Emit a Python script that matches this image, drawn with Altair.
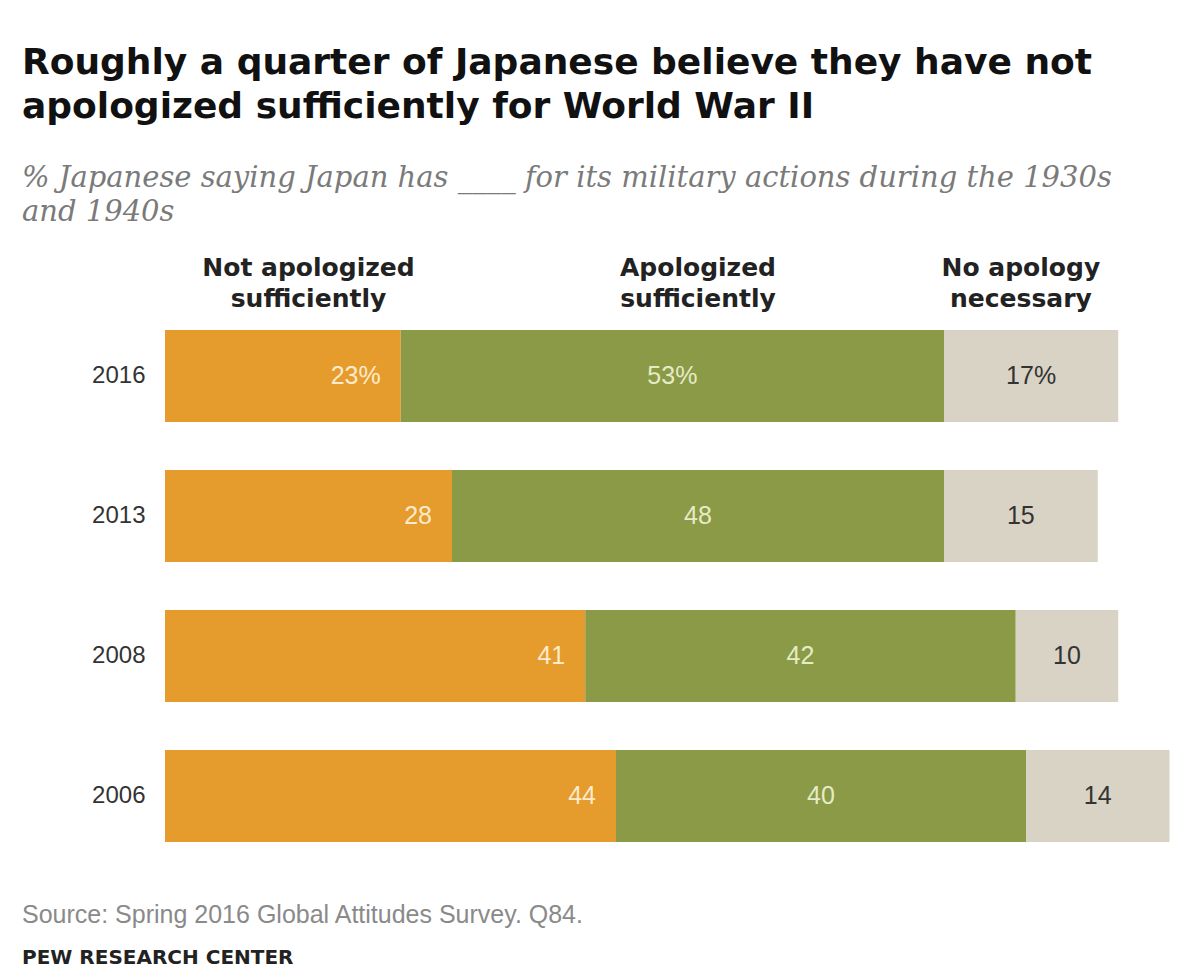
import altair as alt
import pandas as pd

# ---- data ----
years = ["2016", "2013", "2008", "2006"]
categories = ["Not apologized sufficiently", "Apologized sufficiently", "No apology necessary"]
header_lines = [["Not apologized", "sufficiently"], ["Apologized", "sufficiently"], ["No apology", "necessary"]]
not_sufficient = [23, 28, 41, 44]
sufficient = [53, 48, 42, 40]
not_necessary = [17, 15, 10, 14]

title_lines = ["Roughly a quarter of Japanese believe they have not",
               "apologized sufficiently for World War II"]
subtitle_lines = ["% Japanese saying Japan has ____ for its military actions during the 1930s",
                  "and 1940s"]
source_text = "Source: Spring 2016 Global Attitudes Survey. Q84."
org_text = "PEW RESEARCH CENTER"

colors = ["#E69B2D", "#8A9A46", "#D8D3C4"]
label_colors = ["#FCEBCB", "#E6EBC6", "#333333"]

rows = []
series = [not_sufficient, sufficient, not_necessary]
for i, yr in enumerate(years):
    for j, cat in enumerate(categories):
        v = series[j][i]
        rows.append({"year": yr, "cat": cat, "order": j, "value": v,
                     "label": f"{v}%" if i == 0 else str(v),
                     "header": "\n".join(header_lines[j])})
df = pd.DataFrame(rows)

xscale = alt.Scale(domain=[0, 100], nice=False)
yenc = alt.Y("year:N", sort=years,
             scale=alt.Scale(paddingInner=0.343, paddingOuter=0.1715),
             axis=alt.Axis(title=None, ticks=False, domain=False, labelPadding=20,
                           labelFont="Liberation Sans", labelFontSize=24, labelColor="#333333"))

base = alt.Chart(df).transform_stack(
    stack="value", groupby=["year"], as_=["x0", "x1"],
    sort=[alt.SortField("order", order="ascending")]
).transform_calculate(mid="(datum.x0 + datum.x1) / 2")

bars = base.mark_bar().encode(
    x=alt.X("x0:Q", scale=xscale, axis=None),
    x2="x1:Q",
    y=yenc,
    color=alt.Color("cat:N", scale=alt.Scale(domain=categories, range=colors), legend=None),
)

lab_font = dict(font="Liberation Sans", fontSize=25, baseline="middle")
lab0 = base.transform_filter("datum.order == 0").mark_text(
    align="right", dx=-20, color=label_colors[0], **lab_font
).encode(x=alt.X("x1:Q", scale=xscale, axis=None), y=alt.Y("year:N", sort=years), text="label:N")
lab1 = base.transform_filter("datum.order == 1").mark_text(
    align="center", color=label_colors[1], **lab_font
).encode(x=alt.X("mid:Q", scale=xscale, axis=None), y=alt.Y("year:N", sort=years), text="label:N")
lab2 = base.transform_filter("datum.order == 2").mark_text(
    align="center", color=label_colors[2], **lab_font
).encode(x=alt.X("mid:Q", scale=xscale, axis=None), y=alt.Y("year:N", sort=years), text="label:N")

headers = base.transform_filter("datum.year == '2013'").mark_text(
    align="center", baseline="middle", lineBreak="\n", lineHeight=31,
    font="DejaVu Sans", fontWeight="bold", fontSize=25, color="#222222"
).encode(x=alt.X("mid:Q", scale=xscale, axis=None), y=alt.value(-38), text="header:N")

foot_df = pd.DataFrame({"t": [source_text]})
org_df = pd.DataFrame({"t": [org_text]})
source = alt.Chart(foot_df).mark_text(
    align="left", baseline="alphabetic", font="Liberation Sans", fontSize=25, color="#8a8a8a"
).encode(x=alt.value(-143), y=alt.value(617), text="t:N")
org = alt.Chart(org_df).mark_text(
    align="left", baseline="alphabetic", font="DejaVu Sans", fontWeight="bold", fontSize=20, color="#222222"
).encode(x=alt.value(-143), y=alt.value(658), text="t:N")

chart = alt.layer(bars, lab0, lab1, lab2, headers, source, org).properties(
    width=1025, height=560,
    autosize=alt.AutoSizeParams(type="none"),
    padding={"left": 165, "top": 306, "right": 4, "bottom": 113},
    background="white",
    title=alt.TitleParams(
        text=title_lines, subtitle=subtitle_lines,
        anchor="start", frame="group", dx=-143, offset=28,
        font="DejaVu Sans", fontSize=36, fontWeight="bold", color="#111111", lineHeight=44,
        subtitleFont="DejaVu Serif", subtitleFontStyle="italic", subtitleFontSize=29,
        subtitleColor="#7a7a7a", subtitleLineHeight=34, subtitlePadding=38,
    ),
).configure_view(stroke=None)

chart.save("out.html", embed_options={"renderer": "svg", "actions": False})
